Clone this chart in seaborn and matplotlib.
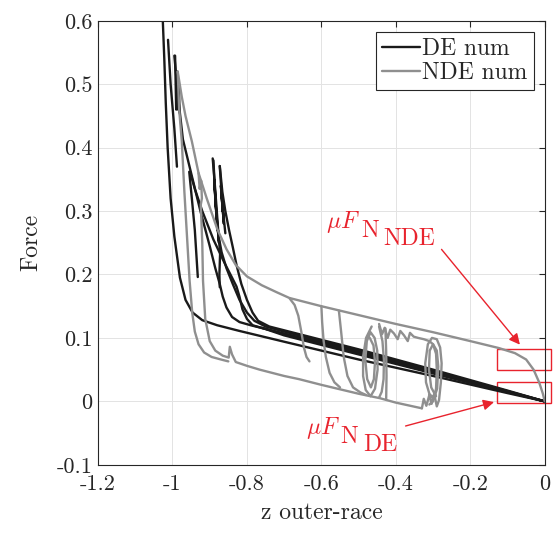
import matplotlib
matplotlib.use("Agg")
import matplotlib.pyplot as plt
from matplotlib.patches import Rectangle
import numpy as np
import pandas as pd
import seaborn as sns

# ---- data (z outer-race, force) ----
# DE num (black)
de1_x = [-1.026, -1.022, -1.018, -1.013, -1.005, -0.995, -0.98, -0.965, -0.946, -0.92, -0.88, -0.82, -0.7, -0.5, -0.3, -0.1, 0.0]
de1_y = [0.600, 0.540, 0.470, 0.400, 0.320, 0.260, 0.195, 0.160, 0.140, 0.128, 0.120, 0.111, 0.094, 0.066, 0.040, 0.013, 0.0]
de2_x = [-0.995, -0.985, -0.972, -0.95, -0.925, -0.9, -0.885, -0.873, -0.865, -0.855, -0.84, -0.82, -0.79, -0.7, -0.5, -0.3, -0.1, 0.0]
de2_y = [0.545, 0.480, 0.413, 0.360, 0.300, 0.245, 0.210, 0.185, 0.165, 0.148, 0.133, 0.125, 0.120, 0.107, 0.078, 0.047, 0.016, 0.0]
de3_x = [-1.012, -1.005, -0.995, -0.988]
de3_y = [0.570, 0.500, 0.430, 0.370]
de4_x = [-0.953, -0.94, -0.92, -0.89, -0.86, -0.84, -0.828, -0.82, -0.812, -0.8, -0.785, -0.75, -0.7, -0.5, -0.3, -0.1, 0.0]
de4_y = [0.362, 0.335, 0.300, 0.255, 0.218, 0.195, 0.181, 0.165, 0.145, 0.130, 0.120, 0.114, 0.104, 0.074, 0.044, 0.015, 0.0]
de5_x = [-0.955, -0.948, -0.94, -0.932]
de5_y = [0.362, 0.320, 0.270, 0.196]
de6_x = [-0.892, -0.886, -0.881, -0.876, -0.868, -0.855, -0.838, -0.82, -0.8, -0.78, -0.75, -0.7, -0.5, -0.3, -0.1, 0.0]
de6_y = [0.383, 0.340, 0.300, 0.260, 0.235, 0.210, 0.185, 0.160, 0.140, 0.127, 0.118, 0.110, 0.080, 0.048, 0.016, 0.0]
de7_x = [-0.873, -0.866, -0.858, -0.848, -0.838, -0.828, -0.815, -0.8, -0.785, -0.77, -0.74, -0.7, -0.5, -0.3, -0.1, 0.0]
de7_y = [0.371, 0.330, 0.300, 0.270, 0.243, 0.215, 0.185, 0.160, 0.140, 0.127, 0.118, 0.112, 0.082, 0.050, 0.017, 0.0]
de8_x = [-0.89, -0.884, -0.888, -0.879, -0.884, -0.875, -0.878, -0.872, -0.874, -0.873]
de8_y = [0.380, 0.310, 0.350, 0.270, 0.310, 0.250, 0.270, 0.235, 0.200, 0.180]
de9_x = [-0.873, -0.865, -0.87, -0.862, -0.866, -0.858]
de9_y = [0.371, 0.300, 0.340, 0.280, 0.310, 0.265]
de10_x = [-0.993, -0.99, -0.988, -0.985, -0.983, -0.981]
de10_y = [0.545, 0.460, 0.520, 0.460, 0.500, 0.455]
de11_x = [-0.76, -0.7, -0.6, -0.45, -0.3, -0.15, 0.0]
de11_y = [0.116, 0.106, 0.091, 0.068, 0.045, 0.022, 0.0]

# NDE num (grey)
nde1_x = [-0.986, -0.975, -0.965, -0.948, -0.93, -0.908, -0.88, -0.855, -0.83, -0.8, -0.76, -0.72, -0.686, -0.6, -0.5,
          -0.4, -0.3, -0.2, -0.123, -0.08, -0.05, -0.03, -0.015, -0.005, 0.0]
nde1_y = [0.520, 0.480, 0.450, 0.410, 0.360, 0.320, 0.272, 0.240, 0.215, 0.197, 0.183, 0.172, 0.163, 0.150, 0.136,
          0.122, 0.109, 0.095, 0.084, 0.076, 0.066, 0.050, 0.030, 0.012, 0.0]
nde2_x = [-0.986, -0.982, -0.975, -0.968, -0.96, -0.954, -0.947, -0.94, -0.93, -0.915, -0.895, -0.87, -0.85]
nde2_y = [0.520, 0.460, 0.410, 0.330, 0.250, 0.190, 0.140, 0.110, 0.090, 0.077, 0.070, 0.066, 0.063]
nde3_x = [-0.93, -0.927, -0.923, -0.921, -0.924, -0.92, -0.918, -0.912, -0.9, -0.885, -0.865, -0.849, -0.846, -0.84,
          -0.83, -0.8, -0.766, -0.7, -0.66, -0.6, -0.5, -0.443, -0.4, -0.33]
nde3_y = [0.360, 0.335, 0.348, 0.320, 0.310, 0.250, 0.190, 0.130, 0.095, 0.080, 0.072, 0.069, 0.086, 0.074,
          0.062, 0.056, 0.050, 0.040, 0.035, 0.026, 0.012, 0.005, -0.002, -0.011]
nde4_x = [-0.33, -0.325, -0.318, -0.31, -0.304, -0.297, -0.29, -0.284, -0.279, -0.277, -0.281, -0.29, -0.303, -0.314,
          -0.321, -0.319, -0.31, -0.298, -0.289, -0.286, -0.29, -0.3, -0.309, -0.311, -0.305, -0.292]
nde4_y = [-0.011, 0.004, -0.007, 0.010, -0.004, 0.012, -0.008, 0.002, 0.030, 0.060, 0.085, 0.098, 0.100, 0.090,
          0.060, 0.030, 0.012, 0.004, 0.020, 0.055, 0.080, 0.090, 0.080, 0.050, 0.022, 0.008]
nde5_x = [-0.445, -0.437, -0.43, -0.422, -0.415, -0.405, -0.395, -0.388, -0.378, -0.368, -0.362, -0.352, -0.34,
          -0.325, -0.31, -0.3, -0.292, -0.29, -0.292, -0.3, -0.31]
nde5_y = [0.122, 0.106, 0.116, 0.100, 0.113, 0.107, 0.098, 0.111, 0.104, 0.095, 0.108, 0.102, 0.100,
          0.098, 0.095, 0.090, 0.075, 0.050, 0.020, 0.000, -0.005]
nde6_x = [-0.465, -0.48, -0.488, -0.488, -0.481, -0.468, -0.456, -0.449, -0.45, -0.457, -0.468, -0.478, -0.482,
          -0.477, -0.467, -0.459, -0.456, -0.46, -0.47]
nde6_y = [0.118, 0.100, 0.070, 0.040, 0.018, 0.008, 0.020, 0.050, 0.080, 0.100, 0.109, 0.095, 0.065,
          0.035, 0.022, 0.035, 0.062, 0.088, 0.100]
nde7_x = [-0.445, -0.436, -0.432, -0.433, -0.438, -0.445]
nde7_y = [0.118, 0.095, 0.065, 0.035, 0.015, 0.006]
nde8_x = [-0.428, -0.426, -0.425, -0.426]
nde8_y = [0.115, 0.080, 0.040, 0.003]
nde9_x = [-0.685, -0.672, -0.662, -0.654, -0.647, -0.64, -0.632]
nde9_y = [0.162, 0.152, 0.135, 0.110, 0.085, 0.070, 0.063]
nde10_x = [-0.6, -0.598, -0.594, -0.588, -0.578, -0.565, -0.55]
nde10_y = [0.150, 0.125, 0.095, 0.070, 0.045, 0.030, 0.022]
nde11_x = [-0.553, -0.547, -0.54, -0.53, -0.515, -0.495, -0.48]
nde11_y = [0.143, 0.110, 0.070, 0.040, 0.022, 0.014, 0.010]

x_ticks = [-1.2, -1.0, -0.8, -0.6, -0.4, -0.2, 0.0]
x_ticklabels = ["-1.2", "-1", "-0.8", "-0.6", "-0.4", "-0.2", "0"]
y_ticks = [-0.1, 0.0, 0.1, 0.2, 0.3, 0.4, 0.5, 0.6]
y_ticklabels = ["-0.1", "0", "0.1", "0.2", "0.3", "0.4", "0.5", "0.6"]

de_segments = [(de1_x, de1_y), (de2_x, de2_y), (de3_x, de3_y), (de4_x, de4_y), (de5_x, de5_y),
               (de6_x, de6_y), (de7_x, de7_y), (de8_x, de8_y), (de9_x, de9_y), (de10_x, de10_y),
               (de11_x, de11_y)]
nde_segments = [(nde1_x, nde1_y), (nde2_x, nde2_y), (nde3_x, nde3_y), (nde4_x, nde4_y), (nde5_x, nde5_y),
                (nde6_x, nde6_y), (nde7_x, nde7_y), (nde8_x, nde8_y), (nde9_x, nde9_y), (nde10_x, nde10_y),
                (nde11_x, nde11_y)]

rows = []
for name, segs in [("DE num", de_segments), ("NDE num", nde_segments)]:
    for k, (xs, ys) in enumerate(segs):
        for i, (xv, yv) in enumerate(zip(xs, ys)):
            rows.append({"z": xv, "force": yv, "series": name, "seg": name + str(k), "order": i})
df = pd.DataFrame(rows)

# ---- style ----
sns.set_theme(style="whitegrid")
plt.rcParams["font.family"] = ["cmr10", "DejaVu Serif"]
plt.rcParams["mathtext.fontset"] = "cm"
plt.rcParams["axes.unicode_minus"] = False
plt.rcParams["axes.formatter.use_mathtext"] = True

text_col = "#262626"
red = "#e8232d"
fs = 17
tick_fs = 16

fig, ax = plt.subplots(figsize=(5.57, 5.33), dpi=100)
fig.subplots_adjust(left=0.176, right=0.978, top=0.961, bottom=0.128)

sns.lineplot(data=df, x="z", y="force", hue="series", units="seg", estimator=None, sort=False,
             palette={"DE num": "#1a1a1a", "NDE num": "#8f8f8f"}, hue_order=["DE num", "NDE num"],
             linewidth=1.7, ax=ax)

ax.set_xlim(-1.2, 0)
ax.set_ylim(-0.1, 0.6)
ax.set_xticks(x_ticks)
ax.set_xticklabels(x_ticklabels)
ax.set_yticks(y_ticks)
ax.set_yticklabels(y_ticklabels)
ax.tick_params(direction="in", length=4, width=0.8, colors=text_col, labelsize=tick_fs,
               top=True, right=True)
ax.tick_params(axis="x", pad=7)
ax.tick_params(axis="y", pad=4)
ax.grid(True, color="#e3e3e3", linewidth=0.7)
for sp in ax.spines.values():
    sp.set_visible(True)
    sp.set_color(text_col)
    sp.set_linewidth(0.8)
ax.set_facecolor("white")

ax.set_xlabel("z outer-race", fontsize=fs, color=text_col, labelpad=6)
ax.set_ylabel("Force", fontsize=fs, color=text_col, labelpad=10)

handles, labels = ax.get_legend_handles_labels()
leg = ax.legend(handles, labels, loc="upper right", bbox_to_anchor=(0.975, 0.975), borderaxespad=0,
                fontsize=fs, frameon=True, fancybox=False, handlelength=1.6, handletextpad=0.1,
                borderpad=0.25, labelspacing=0.1)
leg.get_frame().set_edgecolor(text_col)
leg.get_frame().set_linewidth(0.8)
leg.get_frame().set_alpha(1)
for t in leg.get_texts():
    t.set_color(text_col)

# red annotations
ax.add_patch(Rectangle((-0.128, 0.0496), 0.144, 0.0334, fill=False, edgecolor=red, linewidth=1.0, clip_on=False))
ax.add_patch(Rectangle((-0.128, -0.002), 0.144, 0.033, fill=False, edgecolor=red, linewidth=1.0, clip_on=False))
ax.annotate("", xy=(-0.062, 0.086), xytext=(-0.282, 0.243),
            arrowprops=dict(arrowstyle="-|>", color=red, lw=1.0, mutation_scale=16))
ax.annotate("", xy=(-0.129, 0.0), xytext=(-0.381, -0.04),
            arrowprops=dict(arrowstyle="-|>", color=red, lw=1.0, mutation_scale=16))
# mu F with same-size stacked subscripts, as in the original
ax.text(-0.588, 0.273, r"$\mu F$", color=red, fontsize=fs, ha="left", va="baseline")
ax.text(-0.494, 0.259, "N", color=red, fontsize=fs, ha="left", va="baseline")
ax.text(-0.434, 0.246, "NDE", color=red, fontsize=fs, ha="left", va="baseline")
ax.text(-0.642, -0.051, r"$\mu F$", color=red, fontsize=fs, ha="left", va="baseline")
ax.text(-0.548, -0.065, "N", color=red, fontsize=fs, ha="left", va="baseline")
ax.text(-0.488, -0.078, "DE", color=red, fontsize=fs, ha="left", va="baseline")

fig.savefig("out.png", dpi=100)
